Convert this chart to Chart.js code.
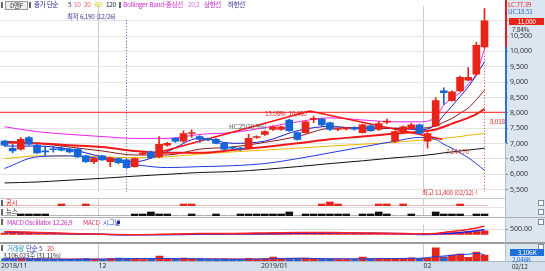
<!DOCTYPE html>
<html lang="ko">
<head>
<meta charset="utf-8">
<title>일봉 차트</title>
<script src="https://cdn.jsdelivr.net/npm/chart.js@4.4.1/dist/chart.umd.min.js"></script>
<style>
  html, body { margin: 0; padding: 0; background: #fff; }
  #wrap { position: relative; width: 545px; height: 271px; overflow: hidden;
          font-family: "Noto Sans CJK KR", "Noto Sans", sans-serif; font-size: 6.5px; line-height: 1; }
  canvas { position: absolute; left: 0; z-index: 1; }
  .bg { position: absolute; z-index: 0; }
  .ln { position: absolute; z-index: 2; }
  .t { position: absolute; white-space: nowrap; z-index: 5; letter-spacing: -0.3px; }
  .mk { position: absolute; width: 2px; height: 6px; background: #666; z-index: 5; }
  .sq { position: absolute; width: 4px; height: 4px; border: 1px solid #7d8a99; background: #fff; z-index: 5; }
</style>
</head>
<body>
<div id="wrap">
  <div class="bg" style="left:505px;top:0;width:40px;height:262px;background:#dce6f1"></div>
  <div class="bg" style="left:0;top:262px;width:545px;height:9px;background:#d3dfeb"></div>

  <canvas id="cMain" width="545" height="198" style="top:0"></canvas>
  <canvas id="cDisc" width="545" height="8" style="top:199px"></canvas>
  <canvas id="cNews" width="545" height="9" style="top:208px"></canvas>
  <canvas id="cMacd" width="545" height="24" style="top:218px"></canvas>
  <canvas id="cVol" width="545" height="28" style="top:243px"></canvas>

  <!-- 패널 구분선 -->
  <div class="ln" style="left:0;top:198px;width:505px;height:1px;background:#c8c8c8"></div>
  <div class="ln" style="left:0;top:207px;width:505px;height:1px;background:#e4e4e4"></div>
  <div class="ln" style="left:0;top:217px;width:545px;height:1px;background:#b0b0b0"></div>
  <div class="ln" style="left:0;top:242px;width:545px;height:2px;background:#9c9c9c"></div>
  <div class="ln" style="left:0;top:261px;width:545px;height:1px;background:#a9b6c4"></div>
  <div class="ln" style="left:505px;top:0;width:2px;height:47px;background:#e02020"></div>
  <div class="ln" style="left:505px;top:47px;width:2px;height:96px;background:#2a72dc"></div>
  <div class="ln" style="left:505px;top:143px;width:1px;height:119px;background:#b3bfcc"></div>

  <!-- 상단 범례 -->
  <div class="mk" style="left:1px;top:2px"></div>
  <div class="t" style="left:5px;top:1px;width:21px;height:7px;border:1px solid #999;background:#eee;color:#333;text-align:center">D엔F</div>
  <div class="mk" style="left:29px;top:2px"></div>
  <div class="t" style="left:34px;top:1px;color:#20208c">종가 단순</div>
  <div class="t" style="left:68px;top:1px;color:#20208c">5</div>
  <div class="t" style="left:74px;top:1px;color:#e06a80">10</div>
  <div class="t" style="left:84px;top:1px;color:#f06040">20</div>
  <div class="t" style="left:95px;top:1px;color:#e8c000">60</div>
  <div class="t" style="left:106px;top:1px;color:#222">120</div>
  <div class="mk" style="left:119px;top:2px"></div>
  <div class="t" style="left:123px;top:1px;color:#d030d0">Bollinger Band-중심선</div>
  <div class="t" style="left:188px;top:1px;color:#e070e0">20,2</div>
  <div class="t" style="left:204px;top:1px;color:#c020c0">상한선</div>
  <div class="t" style="left:228px;top:1px;color:#303090">하한선</div>

  <!-- 주가 패널 주석 -->
  <div class="t" style="left:67px;top:13px;color:#3a3a9a">최저 6,190 (12/26)</div>
  <div class="t" style="left:422px;top:189px;color:#e03030">최고 11,400 (02/12) !</div>
  <div class="t" style="left:265px;top:110px;color:#e02020">13.08%&nbsp; 10,480</div>
  <div class="t" style="left:229px;top:123px;color:#555">HC:25(10.9%)</div>
  <div class="t" style="left:446px;top:148px;color:#d04040">7,144.70</div>
  <div class="t" style="left:490px;top:118px;color:#e03030">8,018</div>

  <!-- 오른쪽 가격 표시 -->
  <div class="t" style="left:508px;top:1px;color:#e03030">LC:77.39</div>
  <div class="t" style="left:508px;top:8px;color:#3070d0">UC:18.51</div>
  <div class="t" style="left:509px;top:18px;width:35px;height:7px;background:#e8231a;color:#fff;text-align:center">11,000</div>
  <div class="t" style="left:512px;top:26px;color:#333">7.84%</div>

  <!-- 공시 / 뉴스 -->
  <div class="mk" style="left:1px;top:200px"></div>
  <div class="t" style="left:6px;top:199px;color:#e02020">공시</div>
  <div class="sq" style="left:538px;top:200px"></div>
  <div class="mk" style="left:1px;top:209px"></div>
  <div class="t" style="left:6px;top:208px;color:#222">뉴스</div>
  <div class="sq" style="left:538px;top:209px"></div>

  <!-- MACD -->
  <div class="mk" style="left:1px;top:219px"></div>
  <div class="t" style="left:7px;top:219px;color:#c828c8">MACD Oscillator 12,26,9</div>
  <div class="t" style="left:83px;top:219px;color:#e03070">MACD</div>
  <div class="t" style="left:103px;top:219px;color:#3040d0">시그널</div>
  <div class="ln" style="left:117px;top:221px;width:3px;height:3px;background:#20208c"></div>
  <div class="sq" style="left:538px;top:219px"></div>

  <!-- 거래량 -->
  <div class="mk" style="left:1px;top:245px"></div>
  <div class="t" style="left:7px;top:245px;color:#2a9bb0">거래량</div>
  <div class="t" style="left:26px;top:245px;color:#2030c0">단순 5</div>
  <div class="t" style="left:47px;top:245px;color:#e03030">20</div>
  <div class="t" style="left:3px;top:252px;color:#333">3,106,023주 (31.11%)</div>
  <div class="sq" style="left:538px;top:244px"></div>
  <div class="t" style="left:510px;top:249px;width:34px;height:7px;background:#1e6fd9;color:#fff;text-align:center">3,106K</div>
  <div class="t" style="left:512px;top:256px;color:#1e6fd9">2,046K</div>

  <div class="t" style="left:512px;top:263px;color:#333">02/12</div>
</div>

<script>
// 일봉 60개
const opens  = [7080, 6850, 6820, 7200, 6950, 6760, 6810, 6850, 6820, 6820,
                6600, 6410, 6600, 6410, 6510, 6470, 6250, 6660, 6730, 6570,
                6950, 7170, 7080, 7330, 7230, 7140, 7140, 7010, 6860, 6850,
                6850, 7200, 7300, 7460, 7460, 7770, 7360, 7360, 7790, 7800,
                7680, 7460, 7480, 7520, 7360, 7580, 7460, 7700, 7080, 7390,
                7490, 7610, 7080, 7580, 8720, 8400, 8720, 9070, 9260, 10150];
const highs  = [7110, 6980, 7200, 7230, 6980, 6920, 6900, 6900, 6860, 6850,
                6620, 6540, 6620, 6560, 6540, 6500, 6540, 6750, 6760, 7230,
                7040, 7200, 7420, 7450, 7260, 7180, 7170, 7040, 6900, 6880,
                7300, 7250, 7420, 7580, 7570, 7800, 7380, 7740, 7900, 7830,
                7700, 7500, 7530, 7550, 7640, 7600, 7720, 7800, 7420, 7580,
                7660, 7640, 7360, 8500, 8820, 8720, 9200, 9480, 10300, 11400];
const lows   = [6920, 6700, 6790, 6950, 6680, 6600, 6720, 6760, 6700, 6550,
                6390, 6350, 6450, 6250, 6350, 6190, 6230, 6620, 6510, 6540,
                6920, 7040, 7040, 7200, 7040, 7100, 6990, 6800, 6800, 6780,
                6830, 7170, 7270, 7430, 7440, 7400, 7110, 7340, 7680, 7580,
                7430, 7420, 7450, 7440, 7340, 7400, 7430, 7650, 7040, 7360,
                7460, 7300, 6850, 7550, 8280, 8380, 8700, 9050, 9230, 10100];
const closes = [6950, 6760, 7140, 6980, 6700, 6730, 6800, 6790, 6730, 6570,
                6410, 6510, 6470, 6540, 6380, 6220, 6510, 6680, 6540, 6980,
                7010, 7080, 7330, 7340, 7140, 7120, 7010, 6820, 6850, 6820,
                7170, 7210, 7390, 7550, 7550, 7420, 7140, 7710, 7800, 7610,
                7460, 7470, 7490, 7470, 7610, 7420, 7650, 7720, 7390, 7550,
                7610, 7330, 7330, 8400, 8660, 8690, 9160, 9160, 10200, 11000];
// 거래량 (천주)
const volumes = [1200, 900, 1300, 1000, 1100, 800, 700, 750, 800, 1000,
                 1200, 900, 800, 1300, 1500, 1400, 1200, 700, 900, 2600,
                 1200, 900, 1500, 1000, 900, 700, 800, 1000, 700, 800,
                 1400, 900, 1300, 2100, 1400, 1300, 1200, 1500, 900, 1000,
                 1000, 800, 700, 700, 2000, 1100, 1300, 900, 1400, 1200,
                 1600, 1300, 1400, 6800, 2200, 3100, 3600, 1700, 4700, 3106];
// MACD Oscillator (봉마다)
const macdOsc = [140, 120, 110, 100, 80, 60, 50, 40, 30, 20,
                 10, 0, -10, -20, -25, -30, -25, -15, 0, 30,
                 50, 60, 70, 80, 80, 70, 60, 50, 50, 50,
                 60, 70, 80, 90, 100, 100, 90, 90, 100, 100,
                 90, 80, 70, 60, 60, 50, 50, 40, 30, 20,
                 10, -40, -50, 30, 124, 171, 200, 247, 278, 355];

// 보조선: 그림에서 읽은 값 (표본 봉 위치)
const lineIdx  = [0, 4, 8, 12, 16, 20, 24, 28, 32, 36, 40, 44, 48, 51, 53, 54, 55, 56, 57, 58, 59];
const ma5      = [6920, 6920, 6820, 6570, 6410, 6740, 7180, 7010, 7080, 7420, 7560, 7490, 7500, 7450, 7610, 7930, 8220, 8530, 8850, 9230, 9670];
const ma10     = [7080, 7010, 6890, 6760, 6630, 6630, 6820, 6890, 7040, 7230, 7500, 7520, 7500, 7500, 7580, 7700, 7820, 7990, 8160, 8430, 8740];
const ma20     = [7040, 7010, 6950, 6890, 6760, 6700, 6700, 6790, 6890, 7010, 7140, 7230, 7330, 7390, 7460, 7550, 7650, 7740, 7840, 7960, 8130];
const ma60     = [6510, 6600, 6600, 6570, 6540, 6570, 6660, 6730, 6790, 6850, 6920, 6980, 7040, 7110, 7140, 7170, 7200, 7230, 7270, 7300, 7330];
const ma120    = [5720, 5750, 5810, 5870, 5940, 6000, 6060, 6090, 6160, 6250, 6350, 6440, 6540, 6600, 6660, 6700, 6730, 6760, 6790, 6820, 6850];
const bbUpper  = [7550, 7390, 7300, 7230, 7170, 7170, 7300, 7360, 7520, 7710, 7840, 7770, 7710, 7710, 7870, 8250, 8470, 8660, 8940, 9290, 10080];
const bbLower  = [6190, 6570, 6600, 6510, 6320, 6220, 6250, 6280, 6350, 6510, 6700, 6890, 7080, 7200, 7140, 6980, 6850, 6700, 6540, 6350, 6130];
const macdLine = [292, 199, 106, 14, -32, 14, 106, 106, 153, 199, 199, 153, 106, 60, 106, 199, 292, 384, 477, 616, 801];
const macdSig  = [245, 176, 83, 14, -56, -32, 37, 60, 83, 130, 153, 130, 106, 60, 37, 83, 130, 199, 269, 361, 477];
const volMa5   = [1050, 1100, 850, 950, 1250, 1300, 1150, 850, 1000, 1500, 1100, 1050, 1300, 1400, 2300, 2600, 3000, 3500, 3500, 4100, 3200];
const volMa20  = [1100, 1100, 1050, 1000, 1050, 1100, 1150, 1100, 1050, 1150, 1150, 1150, 1200, 1200, 1500, 1550, 1650, 1750, 1800, 1950, 2050];

// 추세선, 수평선
const trendIdx = [18.8, 37.5, 53.8];
const trendVal = [6700, 8060, 7140];
const levelLine = 8020;

// 공시 / 뉴스 (봉 번호, 겹치면 2건)
const disclosureIdx = [7, 10, 22, 23, 39, 40, 40, 41, 46, 47, 49, 56];
const newsIdx = [2, 3, 4, 5, 16, 17, 18, 18, 19, 20, 23, 26, 29, 30, 31, 32, 33, 34, 35, 35,
                 37, 38, 39, 40, 41, 42, 44, 45, 46, 46, 47, 50, 53, 53, 54, 55, 56, 58, 59];

// 축
const priceTicks = [5500, 6000, 6500, 7000, 7500, 8000, 8500, 9000, 9500, 10000, 10500, 11000];
const monthStart = [12, 52];
const axisIdx  = [0, 12, 32, 52];
const axisText = ['2018/11', '12', '2019/01', '02'];

const RED = '#e8231a', BLUE = '#1565d8';
const X_MIN = -0.553, X_MAX = 61.52;
const Y_MIN = 5431, Y_MAX = 11475;
const FONT = "'Noto Sans', sans-serif";

const N = closes.length;
const candleColor = closes.map((c, i) => c >= opens[i] ? RED : BLUE);
const pts = vals => vals.map((v, k) => ({x: lineIdx[k], y: v}));
const counts = list => { const a = new Array(N).fill(0); list.forEach(i => a[i]++); return a; };

function xAxis(withLabels) {
  return {
    type: 'linear', min: X_MIN, max: X_MAX, offset: false, bounds: 'data',
    afterBuildTicks: s => { s.ticks = (withLabels ? axisIdx : monthStart).map(i => ({value: i - 0.5})); },
    afterFit: s => { s.height = withLabels ? 10 : 0; },
    ticks: {
      display: !!withLabels, align: 'start', padding: 1, maxRotation: 0, autoSkip: false,
      color: '#333', font: {size: 7, family: FONT},
      callback: (v, k) => axisText[k]
    },
    grid: {
      offset: false, drawTicks: false,
      color: c => (c.tick && monthStart.includes(c.tick.value + 0.5)) ? '#cccccc' : 'rgba(0,0,0,0)'
    },
    border: {display: false}
  };
}

function hiddenY(min, max) {
  return {
    position: 'right', min, max, bounds: 'data',
    afterFit: s => { s.width = 40; },
    ticks: {display: false}, grid: {display: false}, border: {display: false}
  };
}

function opts(yScale, padding, withLabels) {
  return {
    responsive: false, animation: false, devicePixelRatio: 1,
    layout: {padding},
    plugins: {legend: {display: false}, tooltip: {enabled: false}},
    scales: {x: xAxis(withLabels), y: yScale}
  };
}

function line(vals, color, width, order) {
  return {type: 'line', data: pts(vals), borderColor: color, borderWidth: width,
          pointRadius: 0, cubicInterpolationMode: 'monotone', order: order};
}

// 주가
const lowAt = lows.indexOf(Math.min(...lows));
const highAt = highs.indexOf(Math.max(...highs));
new Chart(document.getElementById('cMain'), {
  type: 'bar',
  data: {
    datasets: [
      {data: closes.map((c, i) => ({x: i, y: [opens[i], c]})), backgroundColor: candleColor,
       barThickness: 7, minBarLength: 1, grouped: false, order: 0},
      {data: closes.map((c, i) => ({x: i, y: [lows[i], highs[i]]})), backgroundColor: candleColor,
       barThickness: 1, grouped: false, order: 1},
      line(ma120, '#111111', 1, 5),
      line(ma60, '#f0b400', 1, 5),
      line(bbLower, '#2238e0', 1, 4),
      line(bbUpper, '#ee22ee', 1, 4),
      line(ma20, '#f01818', 2, 3),
      line(ma10, '#8b1a1a', 1, 3),
      line(ma5, '#1a1ad0', 1, 3),
      {type: 'line', data: trendIdx.map((x, k) => ({x, y: trendVal[k]})), borderColor: '#ff1010',
       borderWidth: 1.5, pointRadius: 0, order: 2},
      {type: 'line', data: [{x: X_MIN, y: levelLine}, {x: X_MAX, y: levelLine}], borderColor: '#ff2020',
       borderWidth: 1, pointRadius: 0, order: 2},
      {type: 'line', data: [{x: lowAt, y: Y_MIN}, {x: lowAt, y: 11100}], borderColor: '#4a4ab8',
       borderWidth: 1, borderDash: [1, 2], pointRadius: 0, order: 6},
      {type: 'line', data: [{x: highAt, y: Y_MIN}, {x: highAt, y: highs[highAt]}], borderColor: '#e04040',
       borderWidth: 1, borderDash: [1, 2], pointRadius: 0, order: 6}
    ]
  },
  options: opts({
    position: 'right', min: Y_MIN, max: Y_MAX, bounds: 'data',
    afterFit: s => { s.width = 40; },
    afterBuildTicks: s => { s.ticks = priceTicks.map(v => ({value: v})); },
    ticks: {padding: 2, color: '#333', font: {size: 7, family: FONT},
            callback: v => v === 11000 ? '' : v.toLocaleString('en-US')},
    grid: {color: '#e4e4e4', drawTicks: true, tickLength: 3, tickColor: '#888'},
    border: {display: false}
  }, {top: 6, bottom: 1, left: 0, right: 0})
});

// 공시
new Chart(document.getElementById('cDisc'), {
  type: 'bar',
  data: {datasets: [{data: counts(disclosureIdx).map((v, i) => ({x: i, y: v})), backgroundColor: RED,
                     barThickness: 7, grouped: false}]},
  options: opts(hiddenY(0, 3.5), {top: 0, bottom: 1, left: 0, right: 0})
});

// 뉴스
new Chart(document.getElementById('cNews'), {
  type: 'bar',
  data: {datasets: [{data: counts(newsIdx).map((v, i) => ({x: i, y: v})), backgroundColor: '#111',
                     barThickness: 7, grouped: false}]},
  options: opts(hiddenY(0, 4), {top: 0, bottom: 1, left: 0, right: 0})
});

// MACD
new Chart(document.getElementById('cMacd'), {
  type: 'bar',
  data: {
    datasets: [
      {data: macdOsc.map((v, i) => ({x: i, y: v})), backgroundColor: macdOsc.map(v => v >= 0 ? RED : '#2a5fd8'),
       barThickness: 7, grouped: false, order: 2},
      line(macdLine, '#ff2020', 1.5, 0),
      line(macdSig, '#2020e0', 1.5, 1)
    ]
  },
  options: opts({
    position: 'right', min: -125, max: 985, bounds: 'data',
    afterFit: s => { s.width = 40; },
    afterBuildTicks: s => { s.ticks = [{value: 500}]; },
    ticks: {padding: 2, color: '#333', font: {size: 7, family: FONT}, callback: v => v.toFixed(2)},
    grid: {color: '#dddddd', drawTicks: true, tickLength: 3, tickColor: '#888'},
    border: {display: false}
  }, {top: 0, bottom: 0, left: 0, right: 0})
});

// 거래량
new Chart(document.getElementById('cVol'), {
  type: 'bar',
  data: {
    datasets: [
      {data: volumes.map((v, i) => ({x: i, y: v})), backgroundColor: candleColor,
       barThickness: 7, grouped: false, order: 2},
      line(volMa20, '#e03030', 1, 1),
      line(volMa5, '#2040e0', 1, 0)
    ]
  },
  options: opts(hiddenY(0, 9360), {top: 0, bottom: 0, left: 0, right: 0}, true)
});
</script>
</body>
</html>
